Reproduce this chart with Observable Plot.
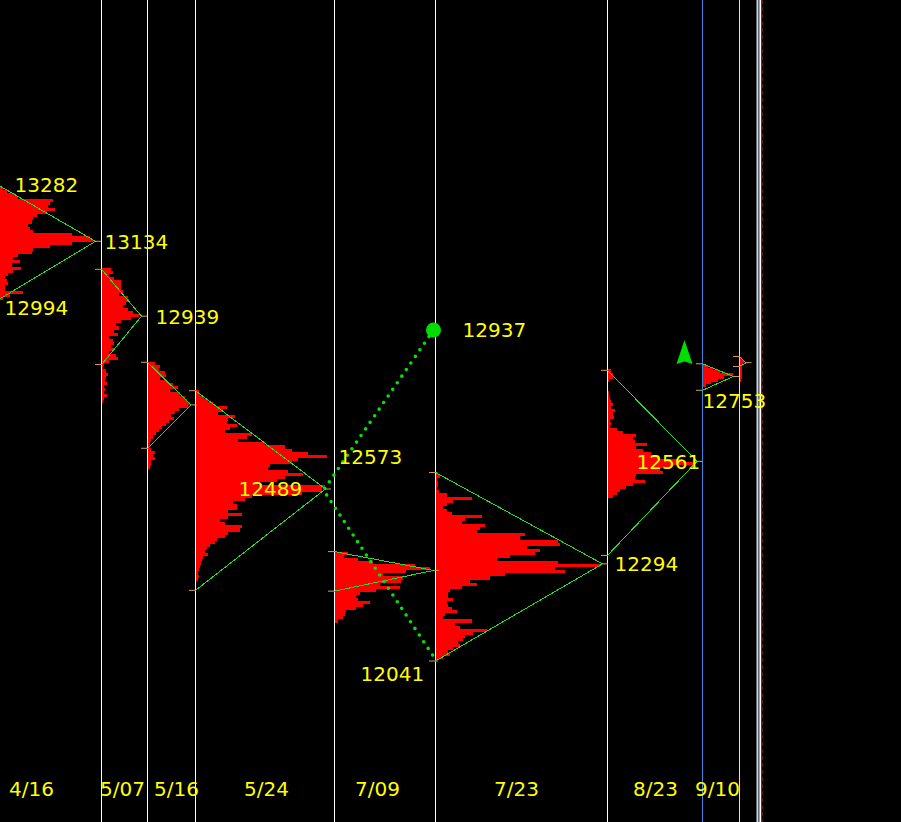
<!DOCTYPE html>
<html>
<head>
<meta charset="utf-8">
<script src="https://cdn.jsdelivr.net/npm/d3@7"></script>
<script src="https://cdn.jsdelivr.net/npm/@observablehq/plot@0.6"></script>
<style>
  html, body { margin: 0; padding: 0; background: #000; }
  #chart { width: 901px; height: 822px; overflow: hidden; }
</style>
</head>
<body>
<div id="chart"></div>
<script>
// Sessions: start bar, date label, label position
const sessionDates = ["4/16", "5/07", "5/16", "5/24", "7/09", "7/23", "8/23", "9/10", ""];
const sessionStart = [0, 101, 147, 195, 334, 435, 607, 702, 739];
const dateLabelX = [31, 122, 176, 266, 377, 516, 655, 717];
const sessionLineColor = [null, "#ffffff", "#ffffff", "#ffffff", "#ffffff", "#ffffff", "#ffffff", "#3d85e0", "#ecec70"];

// Volume profile range (price) of each session
const profileTop =    [13275, 13063, 12819, 12745, 12324, 12532, 12799, 12811, 12832];
const profileBottom = [12979, 12711, 12539, 12249, 12140, 12036, 12463, 12753, 12767];

// Profile row lengths (bars), top to bottom
const p0416 = [3,7,15,18,53,50,48,55,47,37,33,32,28,30,33,72,90,93,72,50,33,32,18,13,20,12,21,13,8,5,7,8,5,5,23,10,3];
const p0507 = [10,12,8,13,20,20,20,22,18,27,28,25,22,27,32,38,30,20,15,18,13,17,8,12,13,10,13,8,15,17,8,3,2,5,7,5,4,6,3,4,3,6,3,2];
const p0516 = [8,13,12,18,19,13,20,26,31,23,33,38,40,43,41,32,28,24,27,22,19,15,12,9,6,4,3,2,4,8,6,8,4,4,3];
const p0524 = [4,5,9,13,18,32,28,23,40,33,32,42,35,30,57,52,43,70,90,97,113,132,103,97,75,73,93,108,90,82,63,130,127,107,57,50,38,42,42,33,47,33,25,30,47,45,33,30,22,20,15,12,10,13,8,7,6,5,4,3,4,3];
const p0709 = [14,10,24,39,81,96,72,49,69,67,46,66,42,26,22,24,36,29,22,12,11,9,4];
const p0723 = [3,5,2,3,3,2,4,12,37,18,12,8,12,17,47,30,27,50,45,42,90,85,123,125,92,105,100,75,62,123,165,120,130,70,55,35,42,27,15,13,13,18,12,13,17,22,10,8,37,20,25,52,38,30,28,23,25,18,13,15,8,3];
const p0823 = [4,6,6,2,1,1,1,2,2,3,4,6,4,8,6,7,3,4,3,10,16,29,26,28,40,29,36,44,52,75,88,65,53,56,29,28,38,26,19,13,10,6];
const p0910 = [6,11,18,31,22,16,9,4];
const pLast = [3,5,4,3,3,3,3,2];
const profiles = [p0416, p0507, p0516, p0524, p0709, p0723, p0823, p0910, pLast];

// Triangle vertices: high, point of control (with its bar), low
const vertexHigh = [13277, 13061, 12819, 12745, 12326, 12532, 12798, 12815, 12834];
const vertexPoc  = [13134, 12939, 12708, 12489, 12277, 12294, 12561, 12782, 12818];
const pocBar     = [95, 141, 190.5, 325, 433, 602, 696.5, 733, 745.5];
const vertexLow  = [12985, 12813, 12595, 12225, 12223, 12041, 12316, 12746, 12808];

// Dotted projection and markers
const projBars = [433, 323, 436];
const projPrices = [12903, 12486, 12041];
const arrowBar = 684, arrowPrice = 12846;

// Price labels
const labelValues = [13282, 13134, 12994, 12939, 12573, 12489, 12937, 12041, 12294, 12561, 12753];
const labelBars =   [14, 104, 4, 155, 338, 238, 462, 360, 614, 636, 702];
const labelBelow =  [false, false, true, false, false, false, true, true, false, false, true];

// ---- build mark data ----
const rows = profiles.flatMap((lens, k) => {
  const step = (profileTop[k] - profileBottom[k]) / lens.length;
  return lens.map((len, i) => ({
    x1: sessionStart[k], x2: sessionStart[k] + len,
    y1: profileTop[k] - i * step, y2: profileTop[k] - (i + 1) * step
  }));
});

const triangles = profiles.flatMap((_, k) => [
  {k, x: sessionStart[k], y: vertexHigh[k]},
  {k, x: pocBar[k], y: vertexPoc[k]},
  {k, x: sessionStart[k], y: vertexLow[k]}
]);

const vertexTicks = profiles.flatMap((_, k) => [
  {y: vertexHigh[k], x1: sessionStart[k] - 6, x2: sessionStart[k]},
  {y: vertexLow[k], x1: sessionStart[k] - 6, x2: sessionStart[k]},
  {y: vertexPoc[k], x1: pocBar[k], x2: pocBar[k] + 6}
]);

const sessionLines = sessionStart
  .map((x, i) => ({x, color: sessionLineColor[i]}))
  .filter(d => d.color);

const projection = projBars.map((x, i) => ({x, y: projPrices[i]}));

const labels = labelValues.map((v, i) => ({v, x: labelBars[i], below: labelBelow[i]}));

const dates = sessionDates.slice(0, 8).map((d, i) => ({d, x: dateLabelX[i]}));

const tallTriangle = {
  draw(context, size) {
    const r = Math.sqrt(size / Math.PI);
    context.moveTo(0, -1.5 * r);
    context.lineTo(r, 1.5 * r);
    context.lineTo(0, 1.2 * r);
    context.lineTo(-r, 1.5 * r);
    context.closePath();
  }
};

const font = "DejaVu Sans";

const chart = Plot.plot({
  width: 901,
  height: 822,
  margin: 0,
  style: {background: "#000", fontFamily: font},
  x: {domain: [0, 901], range: [0, 901], axis: null},
  y: {domain: [11620.5, 13761.1], axis: null},
  marks: [
    Plot.rect(rows, {x1: "x1", x2: "x2", y1: "y1", y2: "y2", fill: "#ff0000", shapeRendering: "crispEdges"}),
    Plot.ruleX(sessionLines, {x: "x", stroke: "color", strokeWidth: 1}),
    // right edge price-scale separator
    Plot.ruleX([757], {stroke: "#c8d8e8", strokeWidth: 2}),
    Plot.ruleX([759], {stroke: "#5a8ab8", strokeWidth: 1}),
    Plot.ruleX([760], {stroke: "#ffffff", strokeWidth: 1.5}),
    Plot.ruleX([761.5], {stroke: "#8b1a1a", strokeWidth: 1.5, strokeDasharray: "4,3"}),
    Plot.line(triangles, {x: "x", y: "y", z: "k", stroke: "#22e022", strokeWidth: 1, shapeRendering: "crispEdges"}),
    Plot.ruleY(vertexTicks, {y: "y", x1: "x1", x2: "x2", stroke: "#d2a05a", strokeWidth: 1}),
    Plot.line(projection, {x: "x", y: "y", stroke: "#00e600", strokeWidth: 3.6, strokeDasharray: "0,8", strokeLinecap: "round"}),
    Plot.dot([projection[0]], {x: "x", y: "y", r: 7.5, fill: "#00dd00"}),
    Plot.dot([{x: arrowBar, y: arrowPrice}], {x: "x", y: "y", r: 8, symbol: tallTriangle, fill: "#00dd00"}),
    Plot.text(labels.filter(d => !d.below), {x: "x", y: "v", text: d => String(d.v), textAnchor: "start", dy: 1, fill: "#ffff00", fontSize: 20, fontFamily: font}),
    Plot.text(labels.filter(d => d.below), {x: "x", y: "v", text: d => String(d.v), textAnchor: "start", dy: 14, fill: "#ffff00", fontSize: 20, fontFamily: font}),
    Plot.text(dates, {x: "x", text: "d", frameAnchor: "bottom", dy: -27, fill: "#ffff00", fontSize: 20, fontFamily: font})
  ]
});

document.getElementById("chart").appendChild(chart);
</script>
</body>
</html>
